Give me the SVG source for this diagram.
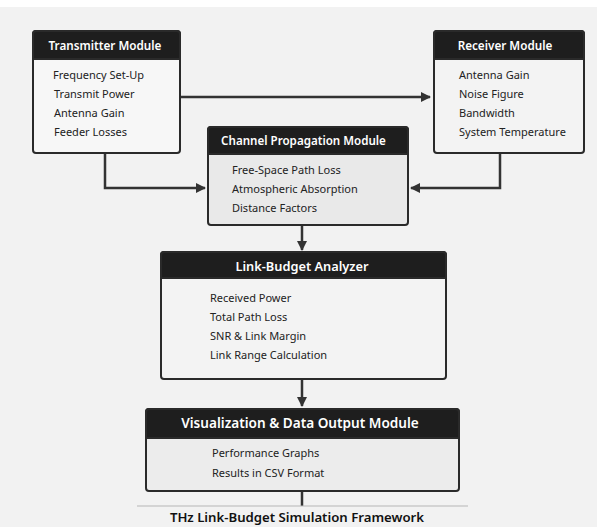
<svg xmlns="http://www.w3.org/2000/svg" width="603" height="527" viewBox="0 0 603 527">
<defs>
<style>
.box{stroke:#2a2a2a;stroke-width:2}
.hdr{fill:#1e1e1e;stroke:#2a2a2a;stroke-width:2}
.ht{font-family:"Noto Sans","Open Sans",sans-serif;font-weight:600;fill:#ffffff;text-anchor:middle}
.bt{font-family:"Noto Sans","Open Sans",sans-serif;font-size:11px;fill:#222222}
.ln{stroke:#333333;stroke-width:2.5;fill:none}
</style>
<marker id="ah" viewBox="0 0 10 10" refX="9" refY="5" markerWidth="4" markerHeight="4" orient="auto" markerUnits="strokeWidth">
<path d="M0,0 L10,5 L0,10 z" fill="#333333"/>
</marker>
</defs>
<rect x="0" y="0" width="603" height="527" fill="#ffffff"/>
<rect x="0" y="7" width="597" height="520" fill="#f2f2f2"/>

<g id="connectors">
<line class="ln" x1="181" y1="97" x2="430" y2="97" marker-end="url(#ah)"/>
<polyline class="ln" points="105,154 105,188 205,188" marker-end="url(#ah)"/>
<polyline class="ln" points="500,154 500,188 411,188" marker-end="url(#ah)"/>
<line class="ln" x1="302" y1="226" x2="302" y2="250" marker-end="url(#ah)"/>
<line class="ln" x1="302" y1="380" x2="302" y2="406" marker-end="url(#ah)"/>
<line class="ln" x1="302" y1="492" x2="302" y2="506"/>
</g>

<g id="transmitter">
<rect class="box" x="33" y="31" width="147" height="122" rx="3" fill="#f7f7f7"/>
<path class="hdr" d="M33,59 V34 a3,3 0 0 1 3,-3 H177 a3,3 0 0 1 3,3 V59 z"/>
<text class="ht" x="105" y="50" font-size="11.7">Transmitter Module</text>
<text class="bt" x="53" y="79">Frequency Set-Up</text>
<text class="bt" x="54" y="98">Transmit Power</text>
<text class="bt" x="54" y="117">Antenna Gain</text>
<text class="bt" x="54" y="136">Feeder Losses</text>
</g>

<g id="receiver">
<rect class="box" x="434" y="31" width="150" height="122" rx="3" fill="#f3f3f3"/>
<path class="hdr" d="M434,59 V34 a3,3 0 0 1 3,-3 H581 a3,3 0 0 1 3,3 V59 z"/>
<text class="ht" x="505" y="50" font-size="11.7">Receiver Module</text>
<text class="bt" x="459" y="79">Antenna Gain</text>
<text class="bt" x="459" y="98">Noise Figure</text>
<text class="bt" x="459" y="117">Bandwidth</text>
<text class="bt" x="459" y="136">System Temperature</text>
</g>

<g id="channel">
<rect class="box" x="208" y="127" width="200" height="98" rx="3" fill="#e9e9e9"/>
<path class="hdr" d="M208,154 V130 a3,3 0 0 1 3,-3 H405 a3,3 0 0 1 3,3 V154 z"/>
<text class="ht" x="303.5" y="145" font-size="11.6">Channel Propagation Module</text>
<text class="bt" x="232" y="174">Free-Space Path Loss</text>
<text class="bt" x="232" y="193">Atmospheric Absorption</text>
<text class="bt" x="232" y="212">Distance Factors</text>
</g>

<g id="analyzer">
<rect class="box" x="161" y="252" width="285" height="127" rx="3" fill="#f3f3f3"/>
<path class="hdr" d="M161,278 V255 a3,3 0 0 1 3,-3 H443 a3,3 0 0 1 3,3 V278 z"/>
<text class="ht" x="302" y="271" font-size="12.8">Link-Budget Analyzer</text>
<text class="bt" x="210" y="302">Received Power</text>
<text class="bt" x="210" y="321">Total Path Loss</text>
<text class="bt" x="210" y="340">SNR &amp; Link Margin</text>
<text class="bt" x="210" y="359">Link Range Calculation</text>
</g>

<g id="visualization">
<rect class="box" x="146" y="409" width="313" height="82" rx="3" fill="#ececec"/>
<path class="hdr" d="M146,438 V412 a3,3 0 0 1 3,-3 H456 a3,3 0 0 1 3,3 V438 z"/>
<text class="ht" x="300" y="428" font-size="13.6">Visualization &amp; Data Output Module</text>
<text class="bt" x="212" y="457">Performance Graphs</text>
<text class="bt" x="212" y="477">Results in CSV Format</text>
</g>

<g id="footer">
<line x1="137" y1="506" x2="468" y2="506" stroke="#b5b5b5" stroke-width="1.2"/>
<text x="297" y="522" font-family="Noto Sans,Open Sans,sans-serif" font-size="13.2" font-weight="600" fill="#111111" text-anchor="middle">THz Link-Budget Simulation Framework</text>
</g>
</svg>
